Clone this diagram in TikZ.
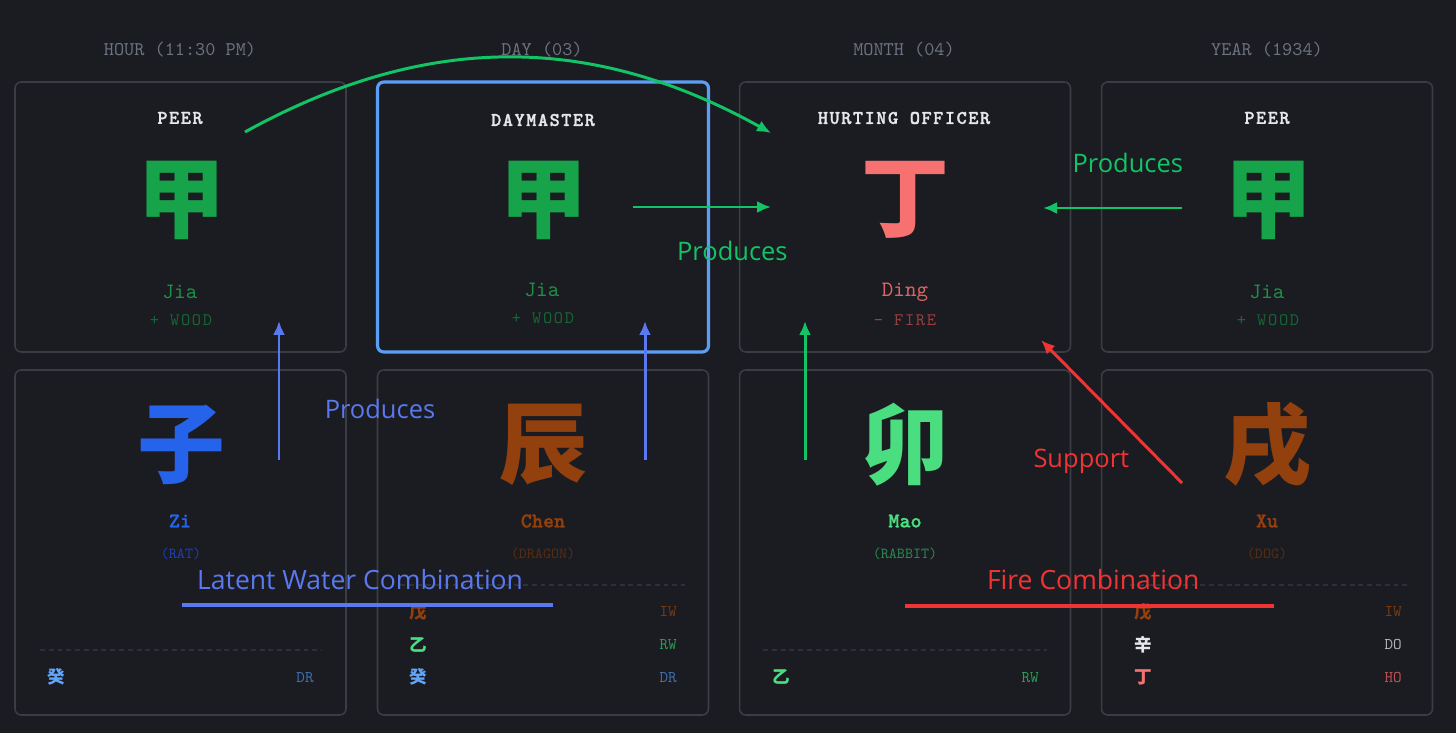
\documentclass[tikz,border=0pt]{standalone}
\usepackage{fontspec}
\usepackage{xcolor}
\usepackage{tikz}
\usetikzlibrary{arrows.meta}
\newfontfamily\monofont{lmmono10-regular.otf}
\newfontfamily\spacedmono{lmmono10-regular.otf}[LetterSpace=10]
\newfontfamily\boldmono{lmmonolt10-bold.otf}[FakeBold=1.2]
\newfontfamily\ttlfont{lmmonolt10-bold.otf}[LetterSpace=8, FakeBold=1.4]
\newfontfamily\cjkfont{Noto Sans CJK SC}
\newfontfamily\lblfont{Open Sans}
\definecolor{bgcolor}{HTML}{1B1C21}
\definecolor{cardline}{HTML}{3A3D45}
\definecolor{dayblue}{HTML}{5B9EF5}
\definecolor{hdgray}{HTML}{6B7280}
\definecolor{ttlwhite}{HTML}{E5E7EB}
\definecolor{woodbig}{HTML}{16A34A}
\definecolor{woodname}{HTML}{1D9147}
\definecolor{woodelem}{HTML}{166534}
\definecolor{firebig}{HTML}{F87171}
\definecolor{firename}{HTML}{DE6565}
\definecolor{fireelem}{HTML}{9A3F3F}
\definecolor{ratblue}{HTML}{2563EB}
\definecolor{ratdim}{HTML}{1E40AF}
\definecolor{earth}{HTML}{92400E}
\definecolor{earthdim}{HTML}{5C2C0E}
\definecolor{rabbit}{HTML}{4ADE80}
\definecolor{rabbitdim}{HTML}{2C8A50}
\definecolor{guiblue}{HTML}{60A5FA}
\definecolor{drblue}{HTML}{3F6FB0}
\definecolor{iwbrown}{HTML}{7A3A10}
\definecolor{rwgreen}{HTML}{2F9A55}
\definecolor{dogray}{HTML}{B0B3B8}
\definecolor{hored}{HTML}{C05050}
\definecolor{sepgray}{HTML}{2D3038}
\definecolor{arrgreen}{HTML}{12C466}
\definecolor{arrblue}{HTML}{5A78F0}
\definecolor{arrred}{HTML}{F03434}
\tikzset{
  colhd/.style={font=\monofont\fontsize{11}{13}\selectfont, text=hdgray, inner sep=0pt},
  card/.style={draw=cardline, line width=0.9pt, rounded corners=3.5pt, fill=bgcolor, minimum width=6.62cm, inner sep=0pt},
  topcard/.style={card, minimum height=5.4cm},
  botcard/.style={card, minimum height=6.9cm},
  daycard/.style={topcard, draw=dayblue, line width=1.8pt},
  ttl/.style={font=\ttlfont\fontsize{11}{13}\selectfont, text=ttlwhite, inner sep=0pt},
  bigch/.style={font=\cjkfont\bfseries\fontsize{50}{50}\selectfont, inner sep=0pt},
  nm/.style={font=\monofont\fontsize{12.5}{14}\selectfont, inner sep=0pt},
  bnm/.style={font=\boldmono\fontsize{12}{14}\selectfont, inner sep=0pt},
  elem/.style={font=\spacedmono\fontsize{10}{12}\selectfont, inner sep=0pt},
  anim/.style={font=\monofont\fontsize{8.7}{10}\selectfont, inner sep=0pt},
  hch/.style={font=\cjkfont\bfseries\fontsize{10}{12}\selectfont, inner sep=0pt},
  hlb/.style={font=\monofont\fontsize{9.3}{11}\selectfont, inner sep=0pt, anchor=east},
  stemrule/.style={draw=sepgray, line width=0.6pt, dash pattern=on 2.8pt off 2.2pt},
  gflow/.style={-{Latex[length=2.8mm,width=2.4mm]}, line width=1.7pt, draw=arrgreen},
  bflow/.style={-{Latex[length=2.8mm,width=2.4mm]}, line width=1.7pt, draw=arrblue},
  rflow/.style={-{Latex[length=2.8mm,width=2.4mm]}, line width=1.7pt, draw=arrred},
  combo/.style={line width=1.8pt},
  lbl/.style={font=\lblfont\fontsize{14.5}{17}\selectfont, inner sep=0pt},
  clbl/.style={font=\lblfont\fontsize{15.1}{18}\selectfont, inner sep=0pt},
}

\begin{document}
\begin{tikzpicture}[x=0.02cm,y=-0.02cm]
\fill[bgcolor] (0,0) rectangle (1456,733);
% pillar headers
\node[colhd] (hhour) at (180,50) {HOUR (11:30 PM)};
\node[colhd] (hday) at (542,50) {DAY (03)};
\node[colhd] (hmonth) at (904,50) {MONTH (04)};
\node[colhd] (hyear) at (1267,50) {YEAR (1934)};
% stem cards
\node[topcard] (hstem) at (180.5,217) {};
\node[daycard] (dstem) at (543,217) {};
\node[topcard] (mstem) at (905,217) {};
\node[topcard] (ystem) at (1267,217) {};
\node[ttl] (httl) at (180,118) {PEER};
\node[ttl] (dttl) at (543,120) {DAYMASTER};
\node[ttl] (mttl) at (904,118) {HURTING OFFICER};
\node[ttl] (yttl) at (1267,118) {PEER};
\node[bigch, text=woodbig] (hch) at (181,200) {甲};
\node[bigch, text=woodbig] (dch) at (543,200) {甲};
\node[bigch, text=firebig] (mch) at (905,200) {丁};
\node[bigch, text=woodbig] (ych) at (1268,200) {甲};
\node[nm, text=woodname] (hnm) at (180,292) {Jia};
\node[nm, text=woodname] (dnm) at (542,290) {Jia};
\node[nm, text=firename] (mnm) at (905,292) {Ding};
\node[nm, text=woodname] (ynm) at (1267,292) {Jia};
\node[elem, text=woodelem] (hel) at (181,320) {+ WOOD};
\node[elem, text=woodelem] (del) at (543,318) {+ WOOD};
\node[elem, text=fireelem] (mel) at (905,320) {- FIRE};
\node[elem, text=woodelem] (yel) at (1268,320) {+ WOOD};
% branch cards
\node[botcard] (hbr) at (180.5,542.5) {};
\node[botcard] (dbr) at (543,542.5) {};
\node[botcard] (mbr) at (905,542.5) {};
\node[botcard] (ybr) at (1267,542.5) {};
\node[bigch, text=ratblue] (hbch) at (181,445) {子};
\node[bigch, text=earth] (dbch) at (543,445) {辰};
\node[bigch, text=rabbit] (mbch) at (905,445) {卯};
\node[bigch, text=earth] (ybch) at (1267,445) {戌};
\node[bnm, text=ratblue] (hbnm) at (180,521) {Zi};
\node[bnm, text=earth] (dbnm) at (543,521) {Chen};
\node[bnm, text=rabbit] (mbnm) at (905,521) {Mao};
\node[bnm, text=earth] (ybnm) at (1267,521) {Xu};
\node[anim, text=ratdim] (hanim) at (181,554) {(RAT)};
\node[anim, text=earthdim] (danim) at (543,554) {(DRAGON)};
\node[anim, text=rabbitdim] (manim) at (905,554) {(RABBIT)};
\node[anim, text=earthdim] (yanim) at (1267,554) {(DOG)};
% hidden stems
\draw[stemrule] (40,650) -- (322,650);
\draw[stemrule] (400,585) -- (685,585);
\draw[stemrule] (763,650) -- (1047,650);
\draw[stemrule] (1130,585) -- (1410,585);
\node[hch, text=guiblue] (h1a) at (56,677) {癸};
\node[hlb, text=drblue] (h1al) at (314,678) {DR};
\node[hch, text=earth] (d2a) at (418,612) {戊};
\node[hlb, text=iwbrown] (d2al) at (677,612) {IW};
\node[hch, text=rabbit] (d2b) at (418,645) {乙};
\node[hlb, text=rwgreen] (d2bl) at (677,645) {RW};
\node[hch, text=guiblue] (d2c) at (418,677) {癸};
\node[hlb, text=drblue] (d2cl) at (677,678) {DR};
\node[hch, text=rabbit] (m3a) at (781,677) {乙};
\node[hlb, text=rwgreen] (m3al) at (1039,678) {RW};
\node[hch, text=earth] (y4a) at (1143,612) {戊};
\node[hlb, text=iwbrown] (y4al) at (1402,612) {IW};
\node[hch, text=ttlwhite] (y4b) at (1143,645) {辛};
\node[hlb, text=dogray] (y4bl) at (1402,645) {DO};
\node[hch, text=firebig] (y4c) at (1143,677) {丁};
\node[hlb, text=hored] (y4cl) at (1402,678) {HO};
% relations
\coordinate (gc1) at (245,132);
\coordinate (gc2) at (771,133);
\coordinate (ga1) at (633,207);
\coordinate (ga2) at (771,207);
\coordinate (gb1) at (1182,208);
\coordinate (gb2) at (1043,208);
\coordinate (gv1) at (805,460);
\coordinate (gv2) at (805,321);
\coordinate (bv1) at (279,460);
\coordinate (bv2) at (279,321);
\coordinate (bw1) at (645,460);
\coordinate (bw2) at (645,321);
\coordinate (rs1) at (1182,483);
\coordinate (rs2) at (1041,340);
\coordinate (lw1) at (182,605);
\coordinate (lw2) at (553,605);
\coordinate (fc1) at (905,606);
\coordinate (fc2) at (1274,606);
\draw[gflow] (gc1) to[bend left=29] (gc2);
\draw[gflow] (ga1) -- (ga2) node[lbl, text=arrgreen, pos=0.72, yshift=-0.88cm]{Produces};
\draw[gflow] (gb1) -- (gb2) node[lbl, text=arrgreen, pos=0.39, yshift=0.9cm]{Produces};
\draw[gflow] (gv1) -- (gv2);
\draw[bflow] (bv1) -- (bv2) node[lbl, text=arrblue, pos=0.37, xshift=2.02cm]{Produces};
\draw[bflow] (bw1) -- (bw2);
\draw[rflow] (rs1) -- (rs2) node[lbl, text=arrred, pos=0.154, xshift=-1.58cm]{Support};
\draw[combo, draw=arrblue] (lw1) -- (lw2) node[clbl, text=arrblue, pos=0.48, yshift=0.5cm]{Latent Water Combination};
\draw[combo, draw=arrred] (fc1) -- (fc2) node[clbl, text=arrred, pos=0.51, yshift=0.52cm]{Fire Combination};
\end{tikzpicture}
\end{document}
